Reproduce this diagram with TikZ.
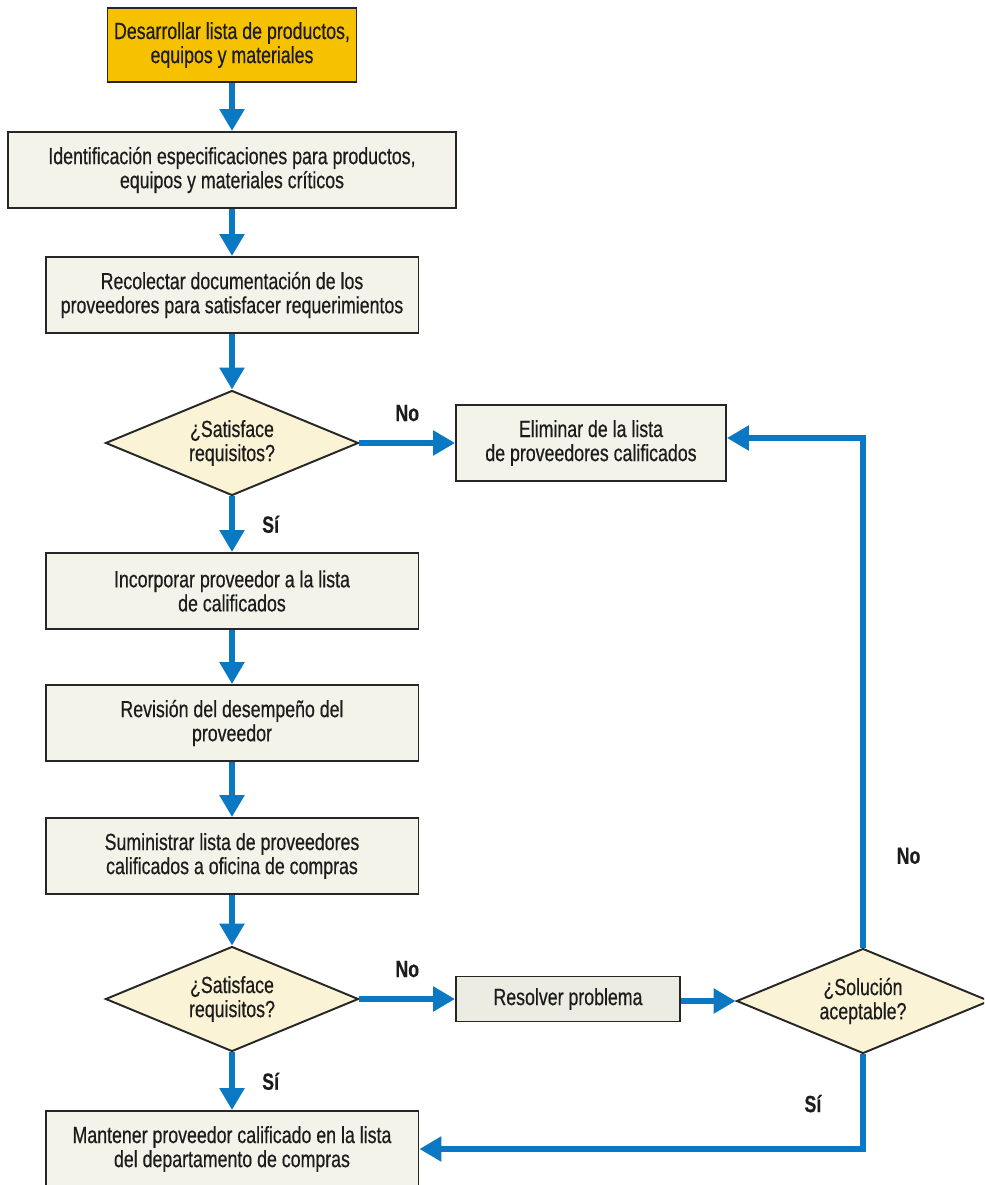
\documentclass[tikz,border=0pt]{standalone}
\usepackage{fontspec}
\setmainfont{Liberation Sans}[FakeStretch=0.76, FakeBold=0.5]
\usetikzlibrary{shapes.geometric, arrows.meta, positioning, calc}

\definecolor{startfill}{HTML}{F6C200}
\definecolor{boxfill}{HTML}{F3F3EA}
\definecolor{resfill}{HTML}{ECECE3}
\definecolor{decfill}{HTML}{FBF3D6}
\definecolor{flowblue}{HTML}{0A78C2}
\definecolor{inkdark}{HTML}{1C1C1C}

\begin{document}
\begin{tikzpicture}[
        x=0.02cm, y=-0.02cm,
        process/.style={
            rectangle, draw=black!85, line width=1.1pt, fill=boxfill,
            minimum width=7.46cm, minimum height=1.52cm, inner sep=0pt,
            align=center, text=inkdark, font=\fontsize{13.3}{13.7}\selectfont
        },
        startbox/.style={
            process, fill=startfill, minimum width=4.98cm, minimum height=1.48cm
        },
        decision/.style={
            diamond, draw=black!85, line width=1.1pt, fill=decfill,
            minimum width=5.06cm, minimum height=2.1cm, aspect=2.4, inner sep=0pt,
            align=center, text=inkdark, font=\fontsize{13.3}{13.7}\selectfont
        },
        flow/.style={
            draw=flowblue, line width=3.1pt, -{Triangle[width=0.48cm, length=0.44cm]}
        },
        answer/.style={
            font=\bfseries\fontsize{13.3}{13.7}\selectfont, text=inkdark, inner sep=0pt
        }
    ]
        \clip (0,0) rectangle (984,1185);
        \fill[white] (0,0) rectangle (984,1185);

        % ----------------------------------------------------
        % MAIN COLUMN
        % ----------------------------------------------------
        \node[startbox] (lista) at (232,45) {Desarrollar lista de productos,\\equipos y materiales};
        \node[process, minimum width=8.96cm] (ident) at (232,170) {Identificación especificaciones para productos,\\equipos y materiales críticos};
        \node[process] (recol) at (232,295) {Recolectar documentación de los\\proveedores para satisfacer requerimientos};
        \node[decision] (sat1) at (232,443) {¿Satisface\\requisitos?};
        \node[process] (incorp) at (232,591) {Incorporar proveedor a la lista\\de calificados};
        \node[process] (revis) at (232,723) {Revisión del desempeño del\\proveedor};
        \node[process] (sumin) at (232,856) {Suministrar lista de proveedores\\calificados a oficina de compras};
        \node[decision] (sat2) at (232,999) {¿Satisface\\requisitos?};
        \node[process] (mant) at (232,1149) {Mantener proveedor calificado en la lista\\del departamento de compras};

        % ----------------------------------------------------
        % RIGHT SIDE
        % ----------------------------------------------------
        \node[process, minimum width=5.4cm] (elim) at (591,443) {Eliminar de la lista\\de proveedores calificados};
        \node[process, fill=resfill, minimum width=4.48cm, minimum height=0.9cm] (resol) at (568,999) {Resolver problema};
        \node[decision] (solu) at (863,1001) {¿Solución\\aceptable?};

        % Flow along the main column
        \draw[flow] (lista.south) -- (ident.north);
        \draw[flow] (ident.south) -- (recol.north);
        \draw[flow] (recol.south) -- (sat1.north);
        \draw[flow] (sat1.south) -- (incorp.north) node[midway, right=0.55cm, answer] {Sí};
        \draw[flow] (incorp.south) -- (revis.north);
        \draw[flow] (revis.south) -- (sumin.north);
        \draw[flow] (sumin.south) -- (sat2.north);
        \draw[flow] (sat2.south) -- (mant.north) node[midway, right=0.55cm, answer] {Sí};

        % Branches
        \draw[flow] (sat1.east) -- (sat1.east -| elim.west) node[midway, above=0.38cm, answer] {No};
        \draw[flow] (sat2.east) -- (sat2.east -| resol.west) node[midway, above=0.38cm, answer] {No};
        \draw[flow] (resol.east |- solu.west) -- (solu.west);
        \draw[flow] (solu.north) |- ($(elim.east)+(0,-5)$) node[pos=0.09, right=0.62cm, answer] {No};
        \draw[flow] (solu.south) |- (mant.east) node[pos=0.26, left=0.78cm, answer] {Sí};

    \end{tikzpicture}
\end{document}
